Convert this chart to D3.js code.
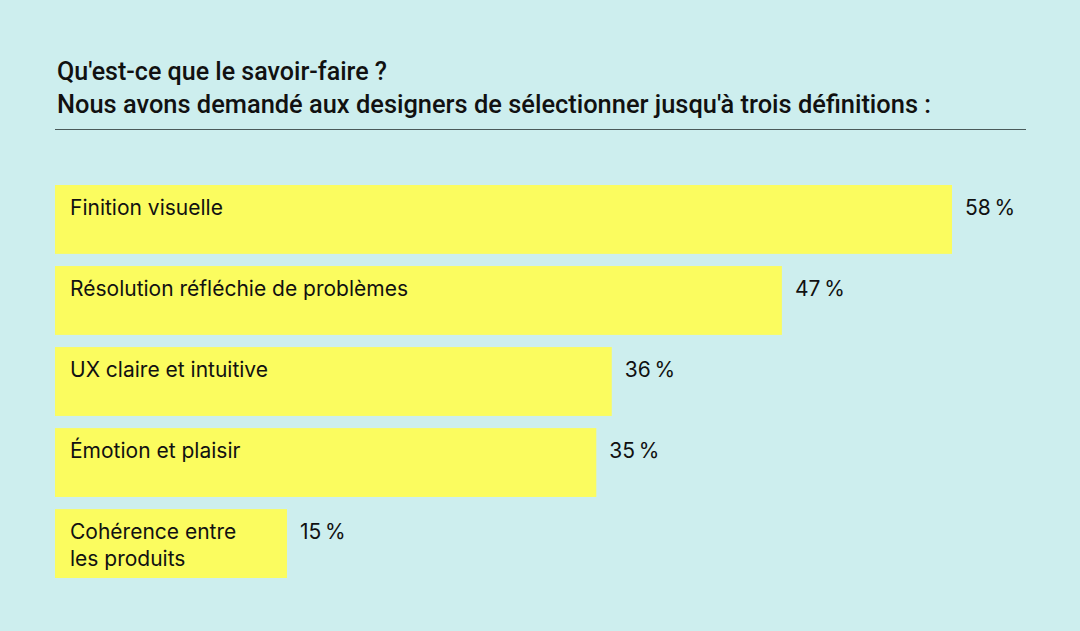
<!DOCTYPE html>
<html>
<head>
<meta charset="utf-8">
<script src="https://cdn.jsdelivr.net/npm/d3@7"></script>
<style>
  html, body { margin: 0; padding: 0; background: #cdeeee; }
  svg { display: block; }
</style>
</head>
<body>
<script>
const categories = [
  ["Finition visuelle"],
  ["Résolution réfléchie de problèmes"],
  ["UX claire et intuitive"],
  ["Émotion et plaisir"],
  ["Cohérence entre", "les produits"]
];
const values = [58, 47, 36, 35, 15];
const titleLines = [
  "Qu'est-ce que le savoir-faire ?",
  "Nous avons demandé aux designers de sélectionner jusqu'à trois définitions :"
];

const w = 1080;
const h = 631;

const svg = d3.select("body")
  .append("svg")
  .attr("width", w)
  .attr("height", h);

svg.append("rect")
  .attr("width", w)
  .attr("height", h)
  .attr("fill", "#cdeeee");

// titre
svg.selectAll("text.title")
  .data(titleLines)
  .enter()
  .append("text")
  .attr("class", "title")
  .attr("x", 57)
  .attr("y", (d, i) => 80 + i * 33)
  .attr("font-family", "Roboto, sans-serif")
  .attr("font-weight", 500)
  .attr("font-size", 26)
  .attr("fill", "#111")
  .attr("textLength", (d, i) => i === 0 ? 330 : 874)
  .attr("lengthAdjust", "spacingAndGlyphs")
  .text(d => d);

svg.append("line")
  .attr("x1", 55)
  .attr("x2", 1026)
  .attr("y1", 129.5)
  .attr("y2", 129.5)
  .attr("stroke", "#4a5a5a")
  .attr("stroke-width", 1.2);

const x = d3.scaleLinear()
  .domain([0, 58])
  .range([55, 952]);

const y = d3.scaleBand()
  .domain(d3.range(values.length))
  .range([185, 578])
  .paddingInner(0.15)
  .paddingOuter(0);

const rows = svg.selectAll("g.row")
  .data(values)
  .enter()
  .append("g")
  .attr("class", "row")
  .attr("transform", (d, i) => `translate(0,${y(i)})`);

rows.append("rect")
  .attr("x", x(0))
  .attr("y", 0)
  .attr("width", d => x(d) - x(0))
  .attr("height", y.bandwidth())
  .attr("fill", "#fbfc5f");

rows.append("text")
  .attr("x", 70)
  .attr("y", 30)
  .attr("font-family", "Inter, 'Noto Sans', sans-serif")
  .attr("font-size", 21)
  .attr("fill", "#111")
  .selectAll("tspan")
  .data((d, i) => categories[i])
  .enter()
  .append("tspan")
  .attr("x", 70)
  .attr("dy", (d, i) => i === 0 ? 0 : 27)
  .text(d => d);

rows.append("text")
  .attr("x", d => x(d) + 13)
  .attr("y", 30)
  .attr("font-family", "Inter, 'Noto Sans', sans-serif")
  .attr("font-size", 21)
  .attr("fill", "#111")
  .text(d => d + "\u2009%");
</script>
</body>
</html>
